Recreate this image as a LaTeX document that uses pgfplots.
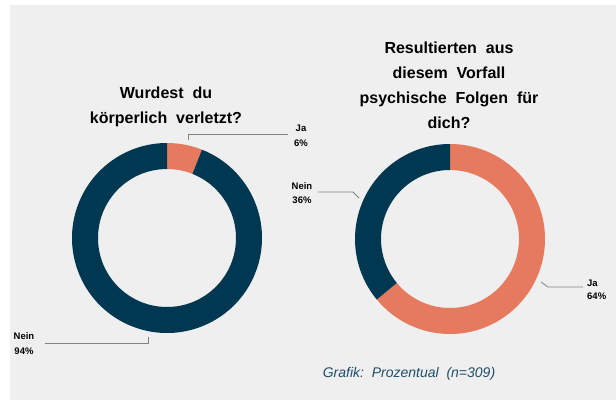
\documentclass[border=0pt]{standalone}
\usepackage{pgfplots}
\pgfplotsset{compat=1.18}
\usepackage{fontspec}
\setmainfont{Liberation Sans}
\definecolor{ringorange}{RGB}{230,122,95}
\definecolor{ringnavy}{RGB}{0,56,82}
\definecolor{bggray}{RGB}{239,239,239}
\definecolor{notecol}{RGB}{31,78,107}
\definecolor{leader}{RGB}{130,130,130}
\begin{document}
\begin{tikzpicture}
\begin{axis}[
  scale only axis, width=616bp, height=414bp,
  xmin=0, xmax=616, ymin=0, ymax=414, y dir=reverse,
  hide axis, clip=false]
% background
\fill[white] (axis cs:0,0) rectangle (axis cs:616,414);
\fill[bggray] (axis cs:10,5) rectangle (axis cs:616,400);
% ---- left donut: Ja 6, Nein 94 ----
\fill[ringorange] ([shift={(90:95bp)}]axis cs:167,238) arc[start angle=90, end angle={90-3.6*6}, radius=95bp]
  -- ([shift={({90-3.6*6}:69bp)}]axis cs:167,238) arc[start angle={90-3.6*6}, end angle=90, radius=69bp] -- cycle;
\fill[ringnavy] ([shift={({90-3.6*6}:95bp)}]axis cs:167,238) arc[start angle={90-3.6*6}, end angle={90-3.6*(6+94)}, radius=95bp]
  -- ([shift={({90-3.6*(6+94)}:69bp)}]axis cs:167,238) arc[start angle={90-3.6*(6+94)}, end angle={90-3.6*6}, radius=69bp] -- cycle;
% ---- right donut: Ja 64, Nein 36 ----
\fill[ringorange] ([shift={(90:95bp)}]axis cs:450,239) arc[start angle=90, end angle={90-3.6*64}, radius=95bp]
  -- ([shift={({90-3.6*64}:69bp)}]axis cs:450,239) arc[start angle={90-3.6*64}, end angle=90, radius=69bp] -- cycle;
\fill[ringnavy] ([shift={({90-3.6*64}:95bp)}]axis cs:450,239) arc[start angle={90-3.6*64}, end angle={90-3.6*(64+36)}, radius=95bp]
  -- ([shift={({90-3.6*(64+36)}:69bp)}]axis cs:450,239) arc[start angle={90-3.6*(64+36)}, end angle={90-3.6*64}, radius=69bp] -- cycle;
% leader lines
\draw[leader, line width=0.8bp] (axis cs:188,140) -- (axis cs:188,134) -- (axis cs:288,134);
\draw[leader, line width=0.8bp] (axis cs:148,337) -- (axis cs:148,343) -- (axis cs:45,343);
\draw[leader, line width=0.8bp] (axis cs:318,192) -- (axis cs:353,192) -- (axis cs:359,198);
\draw[leader, line width=0.8bp] (axis cs:541,282) -- (axis cs:548,287) -- (axis cs:583,287);
% data labels
\node[font=\bfseries\fontsize{9.5bp}{11bp}\selectfont] at (axis cs:301,128) {Ja};
\node[font=\bfseries\fontsize{9.5bp}{11bp}\selectfont] at (axis cs:301,143) {6\%};
\node[font=\bfseries\fontsize{9.5bp}{11bp}\selectfont] at (axis cs:24,336) {Nein};
\node[font=\bfseries\fontsize{9.5bp}{11bp}\selectfont] at (axis cs:24,351) {94\%};
\node[font=\bfseries\fontsize{9.5bp}{11bp}\selectfont] at (axis cs:302,186) {Nein};
\node[font=\bfseries\fontsize{9.5bp}{11bp}\selectfont] at (axis cs:302,200) {36\%};
\node[font=\bfseries\fontsize{9.5bp}{11bp}\selectfont, anchor=west, inner sep=0pt] at (axis cs:587,283) {Ja};
\node[font=\bfseries\fontsize{9.5bp}{11bp}\selectfont, anchor=west, inner sep=0pt] at (axis cs:587,296) {64\%};
% titles
\node[font=\bfseries\fontsize{16bp}{25bp}\selectfont, align=center] at (axis cs:166,107) {Wurdest\ \ du\\k\"orperlich\ \ verletzt?};
\node[font=\bfseries\fontsize{16bp}{25bp}\selectfont, align=center] at (axis cs:449,85) {Resultierten\ \ aus\\diesem\ \ Vorfall\\psychische\ \ Folgen\ \ f\"ur\\dich?};
% footnote
\node[font=\itshape\fontsize{14bp}{16bp}\selectfont, text=notecol] at (axis cs:409,374) {Grafik:\ \ Prozentual\ \ (n=309)};
\end{axis}
\end{tikzpicture}
\end{document}
